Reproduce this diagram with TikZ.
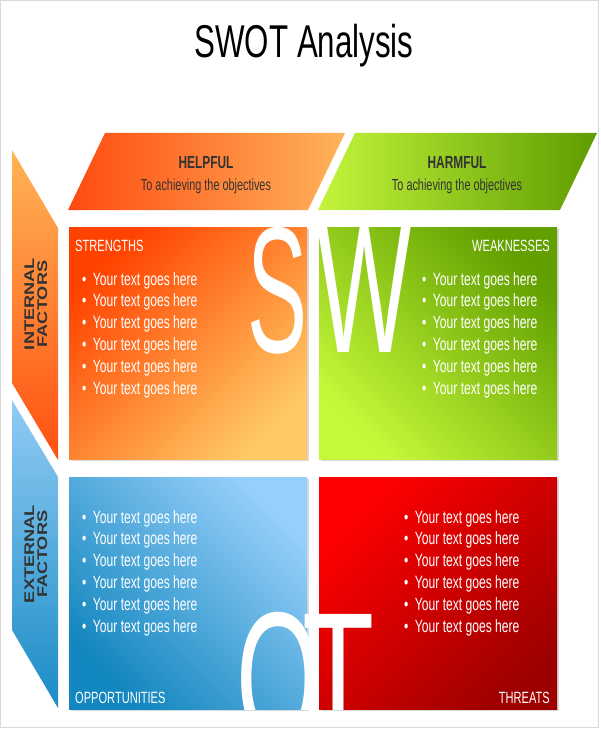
\documentclass[tikz,border=0pt]{standalone}
\usepackage{fontspec}
\usepackage{graphicx}
\usepackage{xcolor}
\setmainfont{Liberation Sans}
\newfontfamily\narfont[FakeStretch=0.68]{Liberation Sans}
\newfontfamily\widefont[FakeStretch=1.3]{Liberation Sans}
\usetikzlibrary{shadows}

\definecolor{txtgray}{HTML}{333333}
\definecolor{helpA}{HTML}{FF4A10}
\definecolor{helpB}{HTML}{FFB45C}
\definecolor{harmA}{HTML}{C4F53C}
\definecolor{harmB}{HTML}{5E9C00}
\definecolor{intA}{HTML}{FFB456}
\definecolor{intB}{HTML}{FF5010}
\definecolor{extA}{HTML}{90CBF4}
\definecolor{extB}{HTML}{1A8CC6}
\definecolor{strA}{HTML}{FF4200}
\definecolor{strB}{HTML}{FFC864}
\definecolor{weakA}{HTML}{62A000}
\definecolor{weakB}{HTML}{C6F83A}
\definecolor{oppA}{HTML}{96CFFA}
\definecolor{oppB}{HTML}{1286BE}
\definecolor{thrA}{HTML}{FF0000}
\definecolor{thrB}{HTML}{9E0000}

\tikzset{
  quad/.style={drop shadow={shadow xshift=1.5pt,shadow yshift=-1.5pt,opacity=0.3}},
  head/.style={anchor=base,inner sep=0,text=txtgray,font=\narfont\bfseries\fontsize{17.5}{20}\selectfont},
  subhead/.style={anchor=base,inner sep=0,text=txtgray,font=\narfont\fontsize{16}{18}\selectfont},
  item/.style={anchor=base west,inner sep=0,text=white,font=\narfont\fontsize{17.8}{20}\selectfont},
  tag/.style={inner sep=0,text=white,font=\narfont\fontsize{16.3}{20}\selectfont},
  side/.style={rotate=90,align=center,text=txtgray,font=\widefont\bfseries\fontsize{14}{13}\selectfont},
  big/.style={inner sep=0,anchor=north west,text=white}
}

\begin{document}
\begin{tikzpicture}[x=1pt,y=-1pt]
\useasboundingbox (0,0) rectangle (600,730);
\draw[gray!30] (0.5,0.5) rectangle (598,727.5);

% title
\node[anchor=base,font=\narfont\fontsize{46}{50}\selectfont] (title) at (304,58) {SWOT Analysis};

% top headers
\shade[left color=helpA,right color=helpB] (68,210) -- (105,133) -- (345,133) -- (308,210) -- cycle;
\shade[left color=harmA,right color=harmB] (318,210) -- (355,133) -- (597,133) -- (560,210) -- cycle;
\node[head] (helpful) at (206,168) {HELPFUL};
\node[subhead] (helpsub) at (206,190) {To achieving the objectives};
\node[head] (harmful) at (457,168) {HARMFUL};
\node[subhead] (harmsub) at (457,190) {To achieving the objectives};

% side panels
\shade[top color=intA,bottom color=intB] (12,150) -- (58,228) -- (58,460) -- (12,383) -- cycle;
\shade[top color=extA,bottom color=extB] (12,400) -- (58,477) -- (58,708) -- (12,630) -- cycle;
\node[side] (internal) at (36,304) {INTERNAL\\FACTORS};
\node[side] (external) at (36,554) {EXTERNAL\\FACTORS};

% quadrants
\path[quad,top color=strA,bottom color=strB,shading angle=45] (69,227) rectangle (307,459);
\path[quad,top color=weakA,bottom color=weakB,shading angle=-45] (319,227) rectangle (557,459);
\path[quad,top color=oppA,bottom color=oppB,shading angle=-45] (69,477) rectangle (307,709);
\path[quad,top color=thrA,bottom color=thrB,shading angle=45] (319,477) rectangle (557,709);

% big letters
\node[big] (letS) at (247,227) {\resizebox{60pt}{125pt}{S}};
\node[big] (letW) at (317,227) {\resizebox{94pt}{125pt}{W}};
\begin{scope}
  \clip (60,470) rectangle (570,709);
  \node[big] (letO) at (236,612) {\resizebox{84pt}{132pt}{O}};
  \node[big] (letT) at (302,614) {\resizebox{72pt}{125pt}{T}};
\end{scope}

% labels
\node[tag,anchor=base west] (strengths) at (75,251) {STRENGTHS};
\node[tag,anchor=base east] (weaknesses) at (550,251) {WEAKNESSES};
\node[tag,anchor=base west] (opportunities) at (75,703) {OPPORTUNITIES};
\node[tag,anchor=base east] (threats) at (550,703) {THREATS};

% bullet lists
\foreach \i in {0,...,5} {
  \node[item] (str\i) at (82,285+21.8*\i) {•\hspace{6.5pt}Your text goes here};
  \node[item] (weak\i) at (422,285+21.8*\i) {•\hspace{6.5pt}Your text goes here};
  \node[item] (opp\i) at (82,523+21.8*\i) {•\hspace{6.5pt}Your text goes here};
  \node[item] (thr\i) at (404,523+21.8*\i) {•\hspace{6.5pt}Your text goes here};
}
\end{tikzpicture}
\end{document}
